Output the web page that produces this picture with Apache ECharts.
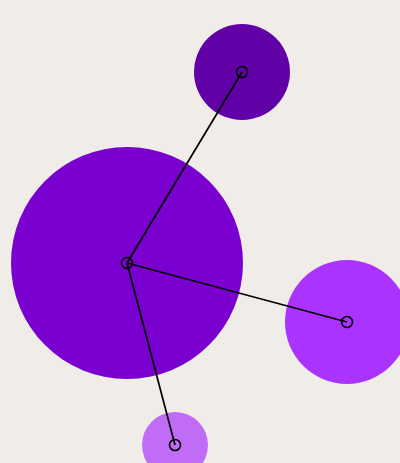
<!DOCTYPE html>
<html>
<head>
<meta charset="utf-8">
<script src="https://cdn.jsdelivr.net/npm/echarts@6/dist/echarts.min.js"></script>
<style>
html, body { margin: 0; padding: 0; background: #f0ede9; }
#chart { width: 400px; height: 463px; }
</style>
</head>
<body>
<div id="chart"></div>
<script>
// nodes: position in chart units, radius, colour
var nodeNames = ['hub', 'top', 'right', 'bottom'];
var nodeX = [127, 242, 347, 175];
var nodeY = [263, 72, 322, 445];
var nodeR = [116, 48, 62, 33];
var nodeColors = ['#7a00d0', '#6200a8', '#aa33ff', '#c06cf6'];
// links from hub to the others
var linkFrom = [0, 0, 0];
var linkTo = [1, 2, 3];

var chart = echarts.init(document.getElementById('chart'));

var bubbleData = [];
var pointData = [];
for (var i = 0; i < nodeNames.length; i++) {
	bubbleData.push({
		name: nodeNames[i],
		value: [nodeX[i], nodeY[i]],
		symbolSize: nodeR[i] * 2,
		itemStyle: { color: nodeColors[i], opacity: 1 }
	});
	pointData.push({ name: nodeNames[i], value: [nodeX[i], nodeY[i]] });
}
var linkData = [];
for (var j = 0; j < linkFrom.length; j++) {
	linkData.push({
		coords: [[nodeX[linkFrom[j]], nodeY[linkFrom[j]]], [nodeX[linkTo[j]], nodeY[linkTo[j]]]]
	});
}

var option = {
	backgroundColor: '#f0ede9',
	animation: false,
	grid: { left: 0, right: 0, top: 0, bottom: 0 },
	xAxis: { type: 'value', min: 0, max: 400, show: false },
	yAxis: { type: 'value', min: 0, max: 463, inverse: true, show: false },
	series: [
		{
			type: 'scatter',
			data: bubbleData,
			symbol: 'circle',
			itemStyle: { opacity: 1 },
			z: 1
		},
		{
			type: 'lines',
			coordinateSystem: 'cartesian2d',
			data: linkData,
			lineStyle: { color: '#000', width: 1.7, opacity: 1 },
			z: 2
		},
		{
			type: 'scatter',
			data: pointData,
			symbol: 'circle',
			symbolSize: 11,
			itemStyle: { color: 'rgba(0,0,0,0)', borderColor: '#000', borderWidth: 1.6, opacity: 1 },
			z: 3
		}
	]
};
chart.setOption(option);
</script>
</body>
</html>
